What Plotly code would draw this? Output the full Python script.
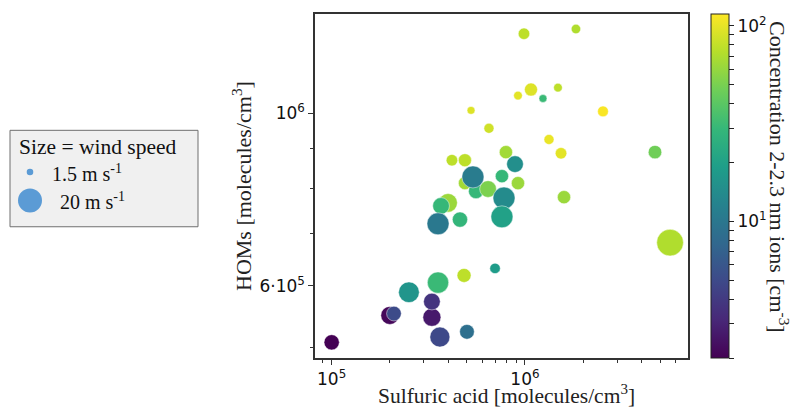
import numpy as np
import plotly.graph_objects as go

# Sulfuric acid concentration [molecules/cm3]
sulfuric_acid = [5.26e5, 6.51e5, 4.19e5, 4.89e5, 9.88e5, 1.835e6, 1.074e6, 9.20e5,
                 1.481e6, 1.239e6, 2.532e6, 1.331e6, 1.536e6, 4.704e6, 7.97e5, 9.20e5,
                 8.88e5, 7.60e5, 4.89e5, 5.58e5, 6.44e5, 5.38e5, 7.79e5, 7.60e5,
                 1.592e6, 4.00e5, 3.68e5, 4.61e5, 3.55e5, 7.00e5, 4.84e5, 3.55e5,
                 2.51e5, 3.30e5, 3.30e5, 2.00e5, 2.10e5, 3.63e5, 5.01e5, 1.00e5, 5.63e6]

# HOM concentration [molecules/cm3]
homs = [1.008e6, 9.56e5, 8.70e5, 8.70e5, 1.264e6, 1.282e6, 1.072e6, 1.053e6,
        1.078e6, 1.044e6, 1.005e6, 9.25e5, 8.88e5, 8.91e5, 8.91e5, 8.13e5,
        8.60e5, 8.30e5, 8.13e5, 7.94e5, 7.99e5, 8.28e5, 7.78e5, 7.36e5,
        7.80e5, 7.67e5, 7.60e5, 7.30e5, 7.21e5, 6.32e5, 6.19e5, 6.06e5,
        5.89e5, 5.47e5, 5.73e5, 5.50e5, 5.53e5, 5.16e5, 5.24e5, 5.08e5, 6.82e5]

# 2-2.3 nm ion concentration [cm-3]
ions = [94, 86, 77, 77, 77, 71, 94, 98,
        77, 31, 112, 102, 98, 47, 65, 62,
        15, 30, 65, 30, 51, 10.9, 14, 20,
        62, 62, 30, 29, 10.1, 18.5, 77, 31,
        16.4, 2.65, 3.7, 2.16, 5.1, 4.9, 8.9, 2.0, 71]

# Wind speed [m s-1]
wind_speed = [2.2, 3.5, 4.6, 5.9, 4.6, 3.1, 5.9, 2.6,
              2.6, 2.2, 4.0, 3.5, 4.6, 6.3, 6.1, 6.1,
              9.7, 6.1, 5.9, 7.8, 9.7, 16.8, 16.8, 16.8,
              6.1, 12.1, 9.7, 8.1, 16.8, 3.8, 6.8, 15.8,
              14.9, 11.3, 9.7, 11.3, 7.5, 13.9, 7.5, 8.1, 24.8]

# Size legend entries [m s-1]
legend_speeds = [1.5, 20]
legend_labels = ["1.5 m s<sup>-1</sup>", "20 m s<sup>-1</sup>"]

# Axis ticks
x_major = [1e5, 1e6]
x_major_text = ["10<sup>5</sup>", "10<sup>6</sup>"]
x_minor = [9e4, 2e5, 3e5, 4e5, 5e5, 6e5, 7e5, 8e5, 9e5,
           2e6, 3e6, 4e6, 5e6, 6e6]
y_major = [6e5, 1e6]
y_major_text = ["6·10<sup>5</sup>", "10<sup>6</sup>"]
y_minor = [5e5, 7e5, 8e5, 9e5]

# Color scale limits for ion concentration
c_min, c_max = 2.0, 115.0

SERIF = "Liberation Serif"
SANS = "DejaVu Sans"

# figure geometry (px)
W, H = 796, 408
L, R, T, B = 315, 108, 12, 50
PW, PH = W - L - R, H - T - B


def px_x(px):
    return (px - L) / PW


def px_y(py):
    return (H - B - py) / PH


def diameter(ws):
    # area of marker proportional to wind speed; 20 m/s -> 24 px
    return 24.0 * np.sqrt(np.asarray(ws, dtype=float) / 20.0)


log_ions = np.log10(ions)

# colorbar ticks (log10 space)
cb_vals = []
cb_text = []
for dec in [1, 10]:
    for m in range(1, 10):
        v = m * dec
        if c_min <= v <= c_max:
            cb_vals.append(np.log10(v))
            cb_text.append(f"10<sup>{int(np.log10(v))}</sup>" if m == 1 else "")
cb_vals.append(2.0)
cb_text.append("10<sup>2</sup>")

fig = go.Figure()
fig.add_trace(go.Scatter(
    x=sulfuric_acid, y=homs, mode="markers",
    marker=dict(
        size=diameter(wind_speed), sizemode="diameter",
        color=log_ions, colorscale="Viridis",
        cmin=np.log10(c_min), cmax=np.log10(c_max),
        line=dict(color="rgba(255,255,255,0.8)", width=0.6),
        opacity=1,
        colorbar=dict(
            x=px_x(711), xanchor="left", xref="paper",
            y=0.5, yanchor="middle", len=1, lenmode="fraction",
            thickness=18, xpad=0, ypad=0,
            outlinewidth=1, outlinecolor="#222",
            tickmode="array", tickvals=cb_vals, ticktext=cb_text,
            ticks="outside", ticklen=5, tickcolor="#222", tickwidth=1,
            tickfont=dict(family=SANS, size=17, color="#111"),
        ),
    ),
    showlegend=False, hoverinfo="x+y",
))

fig.update_layout(
    width=W, height=H,
    margin=dict(l=L, r=R, t=T, b=B),
    paper_bgcolor="white", plot_bgcolor="white",
    xaxis=dict(
        type="log", range=[np.log10(8.2e4), np.log10(6.97e6)],
        showgrid=False, zeroline=False,
        showline=True, linecolor="#333", linewidth=1.5, mirror=True,
        tickmode="array", tickvals=x_major, ticktext=x_major_text,
        ticks="outside", ticklen=5, tickcolor="#333", tickwidth=1,
        tickfont=dict(family=SANS, size=17, color="#111"),
        minor=dict(tickmode="array", tickvals=x_minor, ticks="outside",
                   ticklen=3, tickcolor="#333", tickwidth=1, showgrid=False),
    ),
    yaxis=dict(
        type="log", range=[np.log10(4.85e5), np.log10(1.34e6)],
        showgrid=False, zeroline=False,
        showline=True, linecolor="#333", linewidth=1.5, mirror=True,
        tickmode="array", tickvals=y_major, ticktext=y_major_text,
        ticks="outside", ticklen=5, tickcolor="#333", tickwidth=1,
        tickfont=dict(family=SANS, size=17, color="#111"),
        minor=dict(tickmode="array", tickvals=y_minor, ticks="outside",
                   ticklen=3, tickcolor="#333", tickwidth=1, showgrid=False),
    ),
)

annotations = [
    dict(text="Sulfuric acid [molecules/cm<sup>3</sup>]", x=px_x(506), y=px_y(395),
         xref="paper", yref="paper", showarrow=False,
         font=dict(family=SERIF, size=21.5, color="#222"),
         xanchor="center", yanchor="middle"),
    dict(text="HOMs [molecules/cm<sup>3</sup>]", x=px_x(242), y=px_y(185),
         xref="paper", yref="paper", showarrow=False, textangle=-90,
         font=dict(family=SERIF, size=22, color="#222"),
         xanchor="center", yanchor="middle"),
    dict(text="Concentration 2-2.3 nm ions [cm<sup>-3</sup>]", x=px_x(779), y=px_y(176),
         xref="paper", yref="paper", showarrow=False, textangle=90,
         font=dict(family=SERIF, size=22, color="#222"),
         xanchor="center", yanchor="middle"),
    dict(text="Size = wind speed", x=px_x(17), y=px_y(146),
         xref="paper", yref="paper", showarrow=False,
         font=dict(family=SERIF, size=21.5, color="#111"),
         xanchor="left", yanchor="middle"),
]

shapes = [
    dict(type="rect", xref="paper", yref="paper",
         x0=px_x(10), x1=px_x(198), y0=px_y(226), y1=px_y(129),
         fillcolor="#f0f0f0", line=dict(color="#6f6f6f", width=1), layer="below"),
]

# size legend: swatch circles drawn with the same size scale as the markers
legend_cy = [171, 199.5]
legend_tx = [50, 58]
for ws, lab, cy, tx in zip(legend_speeds, legend_labels, legend_cy, legend_tx):
    r = float(diameter(ws)) / 2
    shapes.append(dict(type="circle", xref="paper", yref="paper",
                       xsizemode="pixel", ysizemode="pixel",
                       xanchor=px_x(30), yanchor=px_y(cy),
                       x0=-r, x1=r, y0=-r, y1=r,
                       fillcolor="#5b9bd5", line=dict(width=0)))
    annotations.append(dict(text=lab, x=px_x(tx), y=px_y(cy + 1),
                            xref="paper", yref="paper", showarrow=False,
                            font=dict(family=SERIF, size=20, color="#111"),
                            xanchor="left", yanchor="middle"))

fig.update_layout(annotations=annotations, shapes=shapes)

fig.write_html("out.html")
